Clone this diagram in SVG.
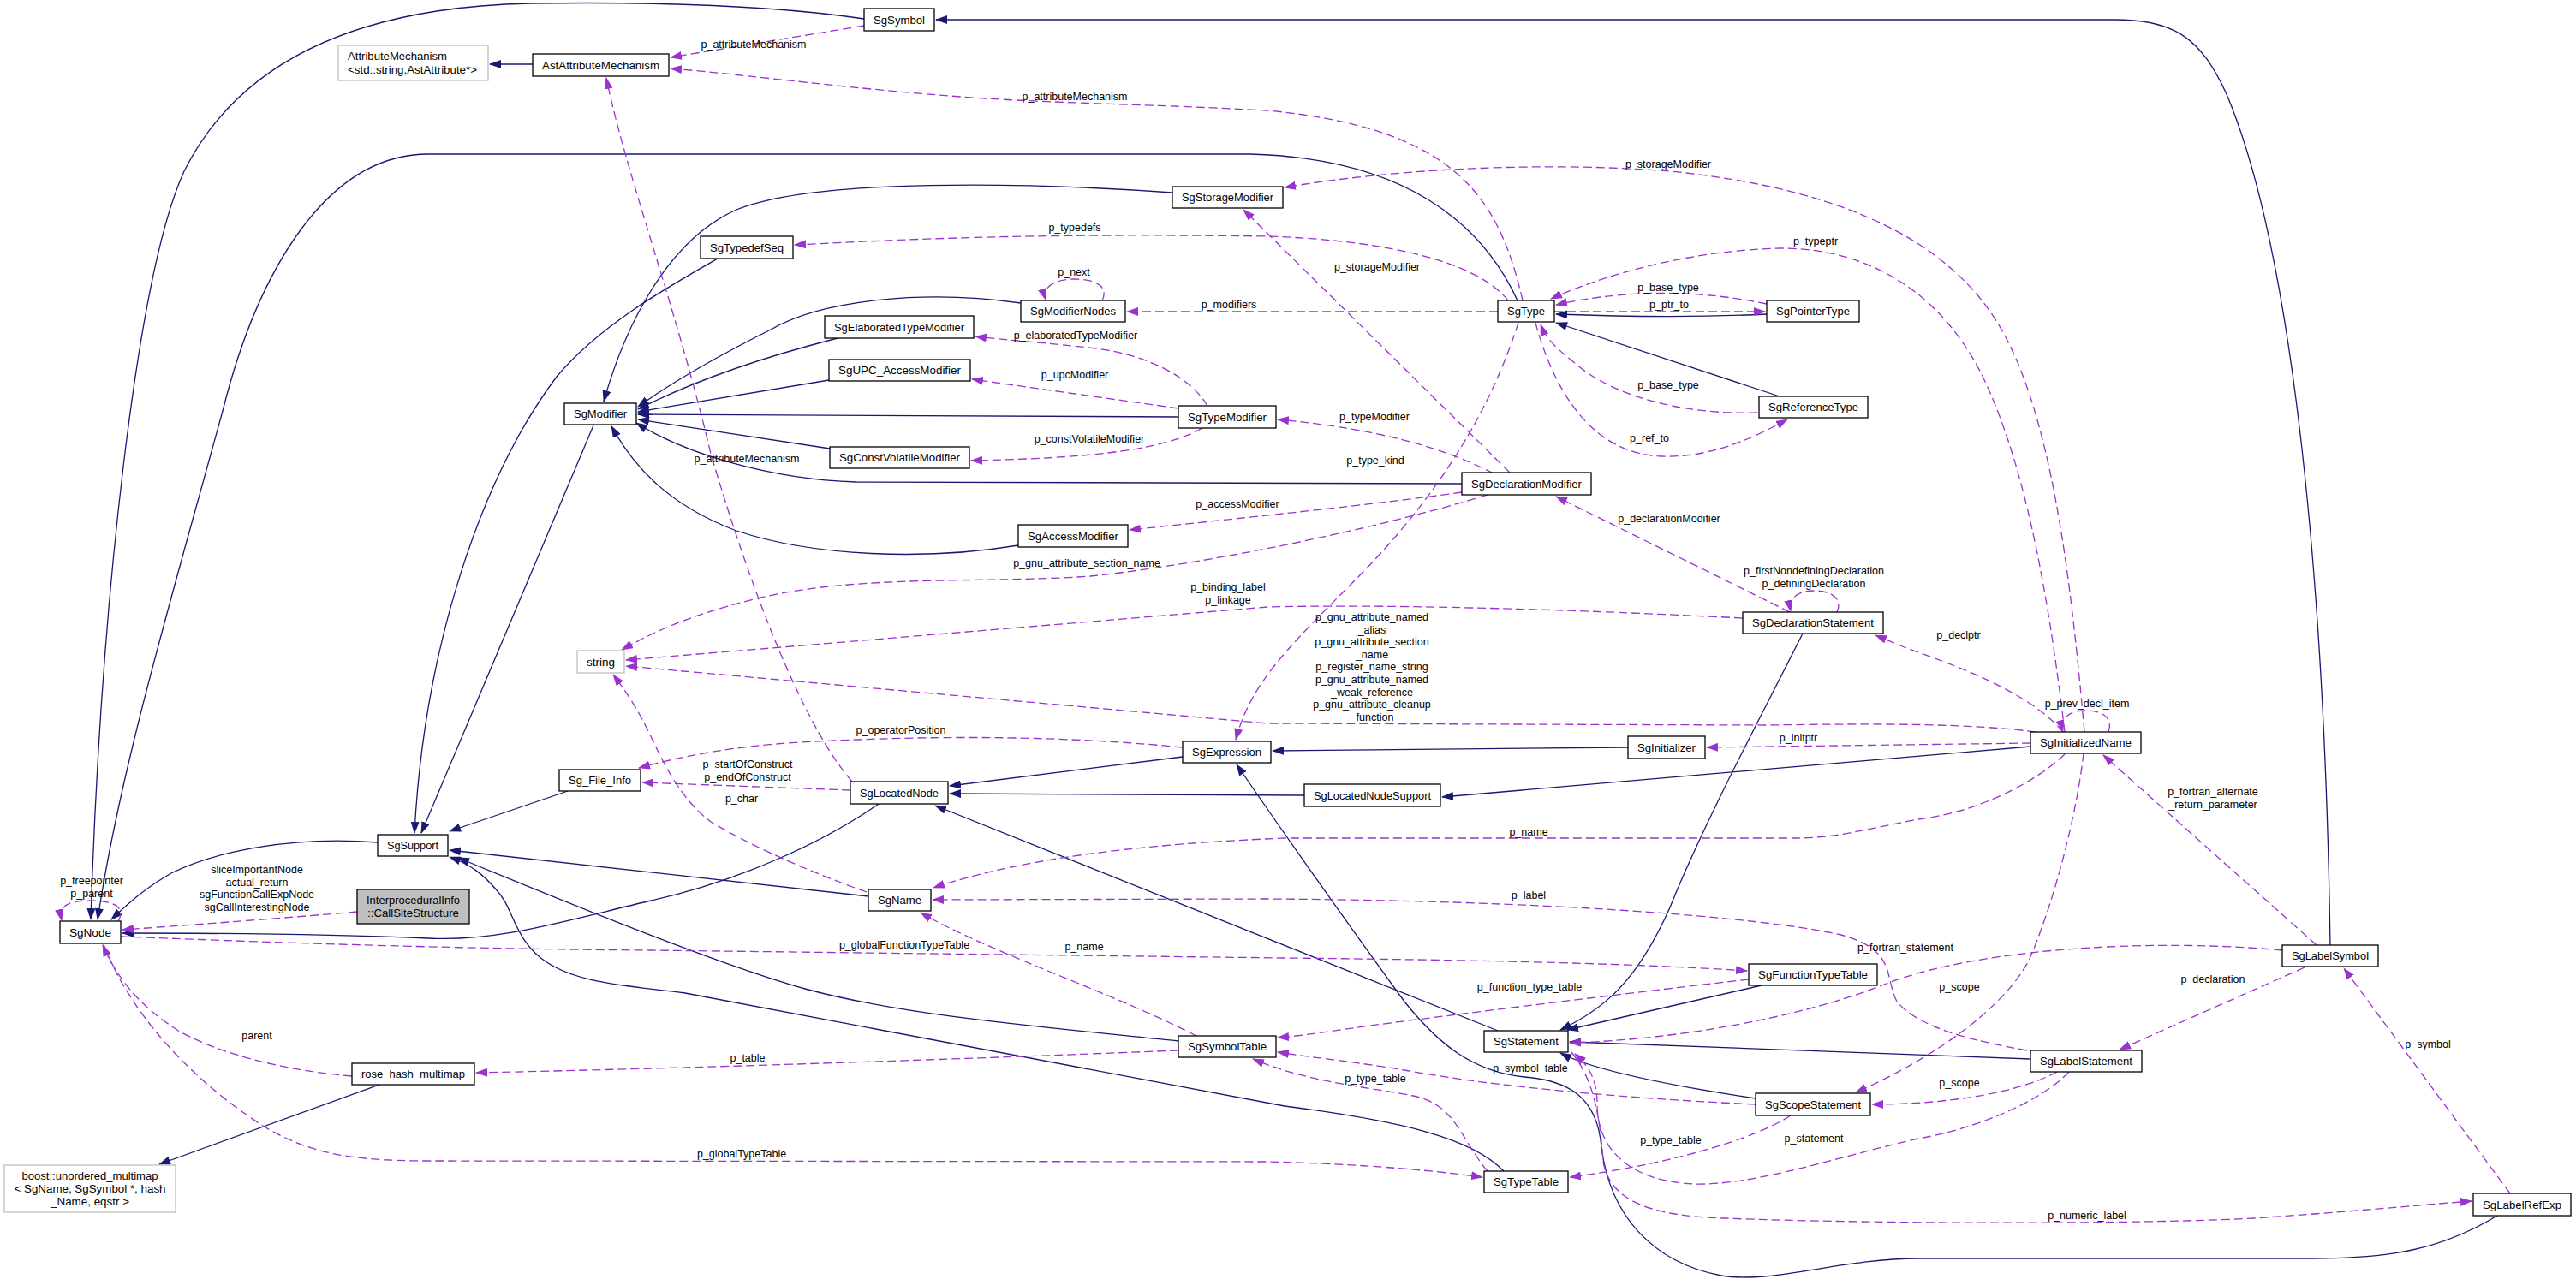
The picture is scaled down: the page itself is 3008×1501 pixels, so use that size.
<svg xmlns="http://www.w3.org/2000/svg" width="3008" height="1501" viewBox="0 0 3008 1501">
<style>
.n rect{fill:#fff;stroke:#000;stroke-width:1.3}
.g rect{stroke:#bfbfbf}
.f rect{fill:#bfbfbf}
text{font-family:"Liberation Sans",Arial,sans-serif;font-size:12.5px;fill:#000}
.n text{text-anchor:middle}
.n text.l{text-anchor:start}
.lb text{text-anchor:middle}
.i{fill:none;stroke:#191970;stroke-width:1.3;marker-end:url(#ai)}
.u{fill:none;stroke:#9a32cd;stroke-width:1.3;stroke-dasharray:10,5;marker-end:url(#au)}
</style>
<defs>
<marker id="ai" viewBox="0 0 14 10" refX="13" refY="5" markerWidth="14" markerHeight="10" markerUnits="userSpaceOnUse" orient="auto"><path d="M0,0L14,5L0,10z" fill="#191970"/></marker>
<marker id="au" viewBox="0 0 14 10" refX="13" refY="5" markerWidth="14" markerHeight="10" markerUnits="userSpaceOnUse" orient="auto"><path d="M0,0L14,5L0,10z" fill="#9a32cd"/></marker>
</defs>
<rect width="3008" height="1501" fill="#fff"/>
<g id="edges">
<path class="i" d="M1009,22 C900,6 760,2 620,4 C420,8 280,70 215,200 C160,320 118,700 106,1074"/>
<path class="i" d="M1772,351 C1730,260 1640,185 1460,180 L500,180 C380,180 300,320 260,480 C200,700 140,900 114,1074"/>
<path class="i" d="M441,984 C340,976 250,995 200,1020 C170,1037 150,1055 130,1074"/>
<path class="i" d="M1026,939 C960,985 860,1030 760,1052 C650,1078 580,1100 500,1096 C400,1092 260,1090 143,1090"/>
<path class="i" d="M693,497 L492,973"/>
<path class="i" d="M838,302 C780,335 700,380 650,440 C560,560 495,760 484,973"/>
<path class="i" d="M663,924 L525,971"/>
<path class="i" d="M1014,1047 L525,993"/>
<path class="i" d="M1376,1216 C1200,1198 1050,1185 940,1155 C850,1130 700,1070 535,1002"/>
<path class="i" d="M1756,1368 C1720,1330 1640,1310 1500,1292 L800,1160 C740,1152 680,1150 640,1125 C600,1100 600,1060 580,1040 C565,1022 550,1010 525,1001"/>
<path class="i" d="M1369,225 C1200,213 950,208 860,245 C780,280 730,380 705,469"/>
<path class="i" d="M1192,354 C1080,338 960,350 900,385 C830,420 780,450 745,475"/>
<path class="i" d="M978,395 C880,420 800,450 745,478"/>
<path class="i" d="M968,444 L745,481"/>
<path class="i" d="M1376,487 L745,484"/>
<path class="i" d="M969,524 L745,490"/>
<path class="i" d="M1707,565 L1000,563 C900,560 800,530 743,494"/>
<path class="i" d="M1189,637 C1080,655 950,650 860,620 C780,590 740,545 714,498"/>
<path class="i" d="M2063,367 C1980,371 1900,370 1817,367"/>
<path class="i" d="M2078,463 L1817,377"/>
<path class="i" d="M1381,884 L1109,918"/>
<path class="i" d="M1523,929 L1109,927"/>
<path class="i" d="M1901,873 L1486,877"/>
<path class="i" d="M2371,872 L1684,931"/>
<path class="i" d="M1749,1204 L1092,941"/>
<path class="i" d="M2105,740 C2060,830 1990,960 1950,1060 C1910,1150 1870,1180 1822,1203"/>
<path class="i" d="M2057,1151 L1830,1203"/>
<path class="i" d="M2371,1237 L1833,1217"/>
<path class="i" d="M2050,1283 C1950,1268 1860,1250 1822,1230"/>
<path class="i" d="M2916,1420 C2850,1460 2790,1470 2700,1470 L2240,1470 C2150,1470 2070,1500 2010,1490 C1930,1475 1880,1420 1870,1340 C1865,1280 1830,1262 1780,1258 C1720,1252 1680,1220 1640,1170 C1560,1060 1490,960 1444,893"/>
<path class="i" d="M2721,1104 C2715,700 2680,300 2600,110 C2570,45 2540,23 2470,23 L1093,23"/>
<path class="i" d="M443,1267 L186,1360"/>
<path class="i" d="M622,75 L572,75"/>
<path class="u" d="M1009,30 L783,67"/>
<path class="u" d="M1778,351 C1750,230 1700,150 1480,129 C1350,122 1250,121 1150,115 C1000,105 880,88 783,80"/>
<path class="u" d="M995,913 C940,850 880,700 830,530 C790,360 730,200 708,91"/>
<path class="u" d="M2434,855 C2420,700 2400,500 2340,390 C2280,280 2150,220 1950,200 C1800,188 1620,198 1500,219"/>
<path class="u" d="M1763,552 L1452,245"/>
<path class="u" d="M1761,351 C1720,300 1600,280 1480,276 C1200,272 1050,280 928,286"/>
<path class="u" d="M1749,364 L1316,364"/>
<path class="u" d="M1287,351 C1295,335 1280,326 1255,326 C1232,326 1216,335 1221,350"/>
<path class="u" d="M1410,474 C1390,440 1340,415 1280,407 C1220,400 1180,398 1139,393"/>
<path class="u" d="M1376,477 L1135,443"/>
<path class="u" d="M1404,500 C1360,525 1280,535 1134,538"/>
<path class="u" d="M1744,553 C1680,520 1600,500 1492,490"/>
<path class="u" d="M2063,355 C1980,338 1900,338 1817,356"/>
<path class="u" d="M1815,364 L2061,364"/>
<path class="u" d="M2411,855 C2395,720 2370,560 2320,450 C2270,340 2180,290 2080,290 C1980,292 1880,318 1811,349"/>
<path class="u" d="M2052,482 C1960,485 1880,460 1840,425 C1815,405 1805,395 1799,379"/>
<path class="u" d="M1793,377 C1810,440 1850,530 1940,533 C2000,535 2050,510 2087,490"/>
<path class="u" d="M1773,377 C1740,480 1680,580 1580,680 C1500,760 1460,800 1443,864"/>
<path class="u" d="M1707,575 C1600,590 1450,605 1319,619"/>
<path class="u" d="M1737,578 C1600,620 1400,660 1273,673 C1150,682 1000,670 880,700 C800,720 760,740 726,759"/>
<path class="u" d="M2035,722 C1800,710 1600,706 1480,709 L731,771"/>
<path class="u" d="M2377,855 C2300,845 2200,845 2062,847 L1480,845 L731,778"/>
<path class="u" d="M2090,715 L1817,580"/>
<path class="u" d="M2145,715 C2152,700 2140,690 2118,690 C2098,690 2088,700 2091,714"/>
<path class="u" d="M2409,855 C2380,820 2320,790 2240,762 C2220,755 2205,748 2190,742"/>
<path class="u" d="M2462,855 C2468,838 2455,830 2435,830 C2415,830 2405,840 2409,854"/>
<path class="u" d="M2371,868 L1993,873"/>
<path class="u" d="M2411,881 C2370,920 2300,950 2240,957 C2180,968 2150,978 2100,979 L1500,979 C1350,985 1200,1000 1090,1037"/>
<path class="u" d="M2433,880 C2425,950 2400,1050 2370,1120 C2340,1180 2250,1240 2167,1276"/>
<path class="u" d="M2402,1252 C2360,1275 2280,1290 2186,1290"/>
<path class="u" d="M2367,1227 C2300,1215 2240,1200 2215,1170 C2200,1140 2215,1110 2150,1092 C2050,1070 1800,1052 1480,1050 L1089,1051"/>
<path class="u" d="M2665,1110 C2500,1095 2300,1110 2200,1150 C2100,1190 1950,1215 1833,1218"/>
<path class="u" d="M2691,1130 L2475,1226"/>
<path class="u" d="M2705,1104 L2456,882"/>
<path class="u" d="M2931,1394 L2737,1131"/>
<path class="u" d="M1835,1229 C1860,1260 1868,1300 1872,1357 C1880,1400 1920,1420 2013,1423 C2200,1430 2500,1430 2632,1423 C2750,1415 2820,1408 2886,1403"/>
<path class="u" d="M2416,1252 C2380,1290 2300,1320 2240,1330 C2150,1350 2050,1385 1979,1383 C1900,1380 1865,1340 1865,1290 C1865,1260 1855,1245 1839,1231"/>
<path class="u" d="M2050,1290 C1900,1283 1750,1270 1640,1250 C1580,1240 1530,1235 1492,1229"/>
<path class="u" d="M2042,1144 C1900,1160 1700,1185 1600,1198 C1550,1205 1520,1210 1492,1212"/>
<path class="u" d="M141,1094 C300,1100 500,1108 760,1110 L1500,1119 C1800,1122 1950,1128 2040,1134"/>
<path class="u" d="M121,1103 C150,1180 220,1260 310,1317 C360,1345 400,1356 500,1356 L1480,1357 C1600,1360 1680,1368 1731,1375"/>
<path class="u" d="M411,1257 C330,1250 260,1232 210,1205 C170,1180 140,1150 120,1104"/>
<path class="u" d="M1376,1227 C1100,1238 800,1248 556,1253"/>
<path class="u" d="M1397,1210 C1300,1160 1150,1110 1075,1066"/>
<path class="u" d="M1737,1368 C1705,1330 1700,1290 1650,1280 C1600,1270 1530,1265 1463,1237"/>
<path class="u" d="M2091,1303 C2050,1330 1950,1360 1833,1375"/>
<path class="u" d="M993,923 L750,914"/>
<path class="u" d="M1381,873 C1250,860 1100,858 934,867 C850,872 790,885 746,897"/>
<path class="u" d="M1012,1042 C950,1020 880,990 830,960 C790,930 770,880 755,850 C740,820 725,800 716,788"/>
<path class="u" d="M417,1065 C300,1075 200,1082 143,1086"/>
<path class="u" d="M138,1076 C148,1058 130,1052 105,1052 C80,1052 68,1058 72,1075"/>
</g>
<g id="labels" class="lb">
<text x="880" y="56">p_attributeMechanism</text>
<text x="1255" y="117">p_attributeMechanism</text>
<text x="872" y="540">p_attributeMechanism</text>
<text x="1948" y="196">p_storageModifier</text>
<text x="1608" y="316">p_storageModifier</text>
<text x="1255" y="270">p_typedefs</text>
<text x="1435" y="360">p_modifiers</text>
<text x="1254" y="322">p_next</text>
<text x="1256" y="396">p_elaboratedTypeModifier</text>
<text x="1255" y="442">p_upcModifier</text>
<text x="1272" y="517">p_constVolatileModifier</text>
<text x="1605" y="491">p_typeModifier</text>
<text x="1948" y="340">p_base_type</text>
<text x="1949" y="360">p_ptr_to</text>
<text x="2120" y="286">p_typeptr</text>
<text x="1948" y="454">p_base_type</text>
<text x="1926" y="516">p_ref_to</text>
<text x="1606" y="542">p_type_kind</text>
<text x="1445" y="593">p_accessModifier</text>
<text x="1269" y="662">p_gnu_attribute_section_name</text>
<text x="1434" y="690">p_binding_label<tspan x="1434" dy="15">p_linkage</tspan></text>
<text x="1602" y="725">p_gnu_attribute_named<tspan x="1602" dy="14.6">_alias</tspan><tspan x="1602" dy="14.6">p_gnu_attribute_section</tspan><tspan x="1602" dy="14.6">_name</tspan><tspan x="1602" dy="14.6">p_register_name_string</tspan><tspan x="1602" dy="14.6">p_gnu_attribute_named</tspan><tspan x="1602" dy="14.6">_weak_reference</tspan><tspan x="1602" dy="14.6">p_gnu_attribute_cleanup</tspan><tspan x="1602" dy="14.6">_function</tspan></text>
<text x="1949" y="610">p_declarationModifier</text>
<text x="2118" y="671">p_firstNondefiningDeclaration<tspan x="2118" dy="15">p_definingDeclaration</tspan></text>
<text x="2287" y="746">p_declptr</text>
<text x="2437" y="826">p_prev_decl_item</text>
<text x="2100" y="866">p_initptr</text>
<text x="1785" y="976">p_name</text>
<text x="2288" y="1157">p_scope</text>
<text x="2288" y="1269">p_scope</text>
<text x="1785" y="1050">p_label</text>
<text x="2225" y="1111">p_fortran_statement</text>
<text x="2584" y="1148">p_declaration</text>
<text x="2584" y="929">p_fortran_alternate<tspan x="2584" dy="15">_return_parameter</tspan></text>
<text x="2835" y="1224">p_symbol</text>
<text x="2437" y="1424">p_numeric_label</text>
<text x="2118" y="1334">p_statement</text>
<text x="1787" y="1252">p_symbol_table</text>
<text x="1786" y="1157">p_function_type_table</text>
<text x="1056" y="1108">p_globalFunctionTypeTable</text>
<text x="866" y="1352">p_globalTypeTable</text>
<text x="300" y="1214">parent</text>
<text x="873" y="1240">p_table</text>
<text x="1266" y="1110">p_name</text>
<text x="1606" y="1264">p_type_table</text>
<text x="1951" y="1336">p_type_table</text>
<text x="873" y="897">p_startOfConstruct<tspan x="873" dy="15">p_endOfConstruct</tspan></text>
<text x="1052" y="857">p_operatorPosition</text>
<text x="866" y="937">p_char</text>
<text x="300" y="1020">sliceImportantNode<tspan x="300" dy="14.5">actual_return</tspan><tspan x="300" dy="14.5">sgFunctionCallExpNode</tspan><tspan x="300" dy="14.5">sgCallInterestingNode</tspan></text>
<text x="107" y="1033">p_freepointer<tspan x="107" dy="15">p_parent</tspan></text>
</g>
<g id="SgSymbol" class="n"><rect x="1009" y="10" width="82" height="26"/><text x="1050" y="27.5" textLength="60" lengthAdjust="spacingAndGlyphs">SgSymbol</text></g>
<g id="AttributeMechanism" class="n g"><rect x="395" y="53" width="175" height="41"/><text class="l" x="406" y="70" textLength="116" lengthAdjust="spacingAndGlyphs">AttributeMechanism</text><text class="l" x="406" y="86" textLength="151" lengthAdjust="spacingAndGlyphs">&lt;std::string,AstAttribute*&gt;</text></g>
<g id="AstAttributeMechanism" class="n"><rect x="622" y="63" width="159" height="26"/><text x="701.5" y="80.5" textLength="137" lengthAdjust="spacingAndGlyphs">AstAttributeMechanism</text></g>
<g id="SgStorageModifier" class="n"><rect x="1369" y="218" width="129" height="25"/><text x="1433.5" y="235" textLength="107" lengthAdjust="spacingAndGlyphs">SgStorageModifier</text></g>
<g id="SgTypedefSeq" class="n"><rect x="818" y="276" width="108" height="26"/><text x="872" y="293.5" textLength="86" lengthAdjust="spacingAndGlyphs">SgTypedefSeq</text></g>
<g id="SgModifierNodes" class="n"><rect x="1192" y="351" width="122" height="25"/><text x="1253" y="368" textLength="100" lengthAdjust="spacingAndGlyphs">SgModifierNodes</text></g>
<g id="SgType" class="n"><rect x="1749" y="351" width="66" height="25"/><text x="1782" y="368" textLength="44" lengthAdjust="spacingAndGlyphs">SgType</text></g>
<g id="SgPointerType" class="n"><rect x="2063" y="351" width="108" height="25"/><text x="2117" y="368" textLength="86" lengthAdjust="spacingAndGlyphs">SgPointerType</text></g>
<g id="SgElaboratedTypeModifier" class="n"><rect x="963" y="369" width="174" height="26"/><text x="1050" y="386.5" textLength="152" lengthAdjust="spacingAndGlyphs">SgElaboratedTypeModifier</text></g>
<g id="SgUPC_AccessModifier" class="n"><rect x="968" y="420" width="165" height="25"/><text x="1050.5" y="437" textLength="143" lengthAdjust="spacingAndGlyphs">SgUPC_AccessModifier</text></g>
<g id="SgReferenceType" class="n"><rect x="2054" y="463" width="127" height="25"/><text x="2117.5" y="480" textLength="105" lengthAdjust="spacingAndGlyphs">SgReferenceType</text></g>
<g id="SgModifier" class="n"><rect x="659" y="471" width="84" height="25"/><text x="701" y="488" textLength="62" lengthAdjust="spacingAndGlyphs">SgModifier</text></g>
<g id="SgTypeModifier" class="n"><rect x="1376" y="474" width="114" height="26"/><text x="1433" y="491.5" textLength="92" lengthAdjust="spacingAndGlyphs">SgTypeModifier</text></g>
<g id="SgConstVolatileModifier" class="n"><rect x="969" y="522" width="163" height="25"/><text x="1050.5" y="539" textLength="141" lengthAdjust="spacingAndGlyphs">SgConstVolatileModifier</text></g>
<g id="SgDeclarationModifier" class="n"><rect x="1707" y="552" width="151" height="26"/><text x="1782.5" y="569.5" textLength="129" lengthAdjust="spacingAndGlyphs">SgDeclarationModifier</text></g>
<g id="SgAccessModifier" class="n"><rect x="1189" y="613" width="128" height="26"/><text x="1253" y="630.5" textLength="106" lengthAdjust="spacingAndGlyphs">SgAccessModifier</text></g>
<g id="SgDeclarationStatement" class="n"><rect x="2035" y="715" width="164" height="25"/><text x="2117" y="732" textLength="142" lengthAdjust="spacingAndGlyphs">SgDeclarationStatement</text></g>
<g id="string" class="n g"><rect x="674" y="760" width="55" height="26"/><text x="701.5" y="777.5" textLength="33" lengthAdjust="spacingAndGlyphs">string</text></g>
<g id="SgExpression" class="n"><rect x="1381" y="866" width="103" height="25"/><text x="1432.5" y="883" textLength="81" lengthAdjust="spacingAndGlyphs">SgExpression</text></g>
<g id="SgInitializer" class="n"><rect x="1901" y="860" width="90" height="26"/><text x="1946" y="877.5" textLength="68" lengthAdjust="spacingAndGlyphs">SgInitializer</text></g>
<g id="SgInitializedName" class="n"><rect x="2371" y="855" width="129" height="25"/><text x="2435.5" y="872" textLength="107" lengthAdjust="spacingAndGlyphs">SgInitializedName</text></g>
<g id="Sg_File_Info" class="n"><rect x="653" y="899" width="95" height="25"/><text x="700.5" y="916" textLength="73" lengthAdjust="spacingAndGlyphs">Sg_File_Info</text></g>
<g id="SgLocatedNode" class="n"><rect x="993" y="913" width="114" height="26"/><text x="1050" y="930.5" textLength="92" lengthAdjust="spacingAndGlyphs">SgLocatedNode</text></g>
<g id="SgLocatedNodeSupport" class="n"><rect x="1523" y="916" width="159" height="26"/><text x="1602.5" y="933.5" textLength="137" lengthAdjust="spacingAndGlyphs">SgLocatedNodeSupport</text></g>
<g id="SgSupport" class="n"><rect x="441" y="975" width="82" height="25"/><text x="482" y="992" textLength="60" lengthAdjust="spacingAndGlyphs">SgSupport</text></g>
<g id="SgNode" class="n"><rect x="70" y="1076" width="71" height="26"/><text x="105.5" y="1093.5" textLength="49" lengthAdjust="spacingAndGlyphs">SgNode</text></g>
<g id="CallSiteStructure" class="n f"><rect x="417" y="1039" width="131" height="40"/><text x="482.5" y="1056" textLength="109" lengthAdjust="spacingAndGlyphs">InterproceduralInfo</text><text x="482.5" y="1071" textLength="107" lengthAdjust="spacingAndGlyphs">::CallSiteStructure</text></g>
<g id="SgName" class="n"><rect x="1014" y="1039" width="73" height="25"/><text x="1050.5" y="1056" textLength="51" lengthAdjust="spacingAndGlyphs">SgName</text></g>
<g id="SgFunctionTypeTable" class="n"><rect x="2042" y="1126" width="150" height="25"/><text x="2117" y="1143" textLength="128" lengthAdjust="spacingAndGlyphs">SgFunctionTypeTable</text></g>
<g id="SgLabelSymbol" class="n"><rect x="2665" y="1104" width="112" height="25"/><text x="2721" y="1121" textLength="90" lengthAdjust="spacingAndGlyphs">SgLabelSymbol</text></g>
<g id="SgStatement" class="n"><rect x="1733" y="1204" width="98" height="25"/><text x="1782" y="1221" textLength="76" lengthAdjust="spacingAndGlyphs">SgStatement</text></g>
<g id="SgSymbolTable" class="n"><rect x="1376" y="1210" width="114" height="25"/><text x="1433" y="1227" textLength="92" lengthAdjust="spacingAndGlyphs">SgSymbolTable</text></g>
<g id="rose_hash_multimap" class="n"><rect x="411" y="1242" width="143" height="25"/><text x="482.5" y="1259" textLength="121" lengthAdjust="spacingAndGlyphs">rose_hash_multimap</text></g>
<g id="SgLabelStatement" class="n"><rect x="2371" y="1227" width="130" height="25"/><text x="2436" y="1244" textLength="108" lengthAdjust="spacingAndGlyphs">SgLabelStatement</text></g>
<g id="SgScopeStatement" class="n"><rect x="2050" y="1277" width="134" height="26"/><text x="2117" y="1294.5" textLength="112" lengthAdjust="spacingAndGlyphs">SgScopeStatement</text></g>
<g id="boost_unordered_multimap" class="n g"><rect x="5" y="1361" width="200" height="55"/><text x="105" y="1378" textLength="159" lengthAdjust="spacingAndGlyphs">boost::unordered_multimap</text><text x="105" y="1393" textLength="177" lengthAdjust="spacingAndGlyphs">&lt; SgName, SgSymbol *, hash</text><text x="105" y="1408" textLength="92" lengthAdjust="spacingAndGlyphs">_Name, eqstr &gt;</text></g>
<g id="SgTypeTable" class="n"><rect x="1733" y="1368" width="98" height="25"/><text x="1782" y="1385" textLength="76" lengthAdjust="spacingAndGlyphs">SgTypeTable</text></g>
<g id="SgLabelRefExp" class="n"><rect x="2888" y="1394" width="114" height="26"/><text x="2945" y="1411.5" textLength="92" lengthAdjust="spacingAndGlyphs">SgLabelRefExp</text></g>
</svg>
